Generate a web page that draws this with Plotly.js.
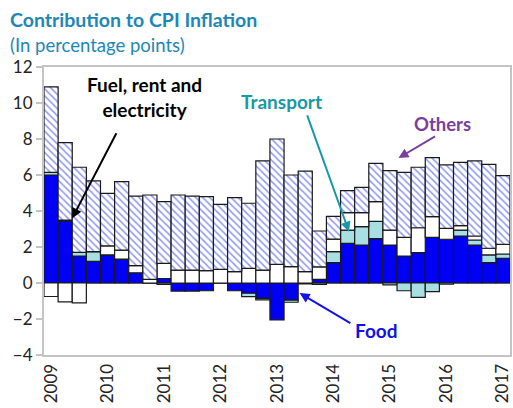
<!DOCTYPE html>
<html><head><meta charset="utf-8">
<script src="https://cdn.plot.ly/plotly-3.0.1.min.js"></script>
<style>html,body{margin:0;padding:0;background:#fff}</style>
</head><body>
<div id="chart" style="width:513px;height:408px"></div>
<script>
const quarters = ["2009Q1","2009Q2","2009Q3","2009Q4","2010Q1","2010Q2","2010Q3","2010Q4","2011Q1","2011Q2","2011Q3","2011Q4","2012Q1","2012Q2","2012Q3","2012Q4","2013Q1","2013Q2","2013Q3","2013Q4","2014Q1","2014Q2","2014Q3","2014Q4","2015Q1","2015Q2","2015Q3","2015Q4","2016Q1","2016Q2","2016Q3","2016Q4","2017Q1"];
const food = [6.0,3.45,1.5,1.2,1.56,1.33,0.57,0.0,0.25,-0.45,-0.45,-0.43,0.0,-0.43,-0.57,-0.85,-2.05,-0.95,-0.05,0.2,1.13,2.2,2.11,2.46,2.11,1.5,1.69,2.54,2.43,2.61,2.11,1.13,1.37];
const transport = [0.15,0.05,0.2,0.54,0,0,0,0,-0.08,0,0,0,0,0,-0.19,-0.09,0,-0.12,0,-0.08,0.61,0.74,1.02,0.96,-0.1,-0.43,-0.8,-0.48,-0.07,0.33,0.28,0.43,0.24];
const fuel = [-0.75,-1.05,-1.1,0,0.5,0.5,0.39,0.2,0.84,0.72,0.72,0.69,0.76,0.63,0.81,0.72,1.04,0.91,0.63,0.7,0.7,0.97,0.78,1.1,0.83,1.04,1.38,1.15,0.61,0.25,0.22,0.37,0.54];
const others = [4.75,4.3,4.73,3.93,2.92,3.8,3.87,4.69,3.43,4.17,4.11,4.11,3.61,4.11,3.62,6.06,6.96,5.09,5.59,1.99,1.26,1.22,1.4,2.13,3.3,3.61,3.36,3.27,3.52,3.51,4.17,4.66,3.81];
const yearLabels = ["2009","2010","2011","2012","2013","2014","2015","2016","2017"];

const idx = quarters.map((q,i)=>i);
const yearTicks = yearLabels.map(y => quarters.indexOf(y+"Q1"));
const outline = {color:'#1a1a1a', width:1.2};
const font = 'Lato, "Open Sans", sans-serif';

const traces = [
  {type:'bar', name:'Food', x:idx, y:food, marker:{color:'#0000f5', line:outline}},
  {type:'bar', name:'Transport', x:idx, y:transport, marker:{color:'#a8dfe3', line:outline}},
  {type:'bar', name:'Fuel, rent and electricity', x:idx, y:fuel, marker:{color:'#ffffff', line:outline}},
  {type:'bar', name:'Others', x:idx, y:others, marker:{color:'#ffffff', line:outline,
     pattern:{shape:'\\', fgcolor:'#8e98f0', bgcolor:'#ffffff', size:5, solidity:0.3}}}
];

const layout = {
  width:513, height:408,
  margin:{l:44, r:3, t:67, b:53},
  barmode:'relative', bargap:0,
  showlegend:false,
  paper_bgcolor:'#fff', plot_bgcolor:'#fff',
  font:{family:font, color:'#222'},
  xaxis:{range:[-0.5,32.5], tickmode:'array', tickvals:yearTicks, ticktext:yearLabels,
    tickangle:-90, tickfont:{size:17, color:'#222'}, showgrid:false, zeroline:false,
    showline:true, mirror:true, linecolor:'#c4c4c4', linewidth:2, ticks:''},
  yaxis:{range:[-4,12], dtick:2, tick0:0, tickfont:{size:17, color:'#222'}, showgrid:false,
    zeroline:true, zerolinecolor:'#a0a0a0', zerolinewidth:2,
    showline:true, mirror:true, linecolor:'#c4c4c4', linewidth:2,
    ticks:'outside', ticklen:6, tickcolor:'#c4c4c4', tickwidth:2},
  annotations:[
    {xref:'paper', yref:'paper', x:-0.077, y:1.165, xanchor:'left', yanchor:'middle', showarrow:false,
     text:'<b>Contribution to CPI Inflation</b>', font:{size:19.5, color:'#1d87b7', family:font}},
    {xref:'paper', yref:'paper', x:-0.077, y:1.078, xanchor:'left', yanchor:'middle', showarrow:false,
     text:'(In percentage points)', font:{size:18.5, color:'#1d87b7', family:font}},
    {xref:'x', yref:'y', x:6.6, y:10.35, showarrow:false, text:'<b>Fuel, rent and<br>electricity</b>',
     font:{size:19, color:'#000', family:font}, align:'center'},
    {xref:'x', yref:'y', axref:'x', ayref:'y', x:1.5, y:3.6, ax:4.68, ay:8.4, showarrow:true,
     arrowhead:2, arrowsize:1, arrowwidth:2, arrowcolor:'#000', text:''},
    {xref:'x', yref:'y', x:16.3, y:10.1, showarrow:false, text:'<b>Transport</b>',
     font:{size:19, color:'#1798a6', family:font}},
    {xref:'x', yref:'y', axref:'x', ayref:'y', x:21.1, y:2.85, ax:18.1, ay:9.4, showarrow:true,
     arrowhead:2, arrowsize:1, arrowwidth:2, arrowcolor:'#1798a6', text:''},
    {xref:'x', yref:'y', x:27.75, y:8.85, showarrow:false, text:'<b>Others</b>',
     font:{size:18.5, color:'#7a3f9d', family:font}},
    {xref:'x', yref:'y', axref:'x', ayref:'y', x:24.6, y:6.94, ax:27.3, ay:8.2, showarrow:true,
     arrowhead:2, arrowsize:1, arrowwidth:2, arrowcolor:'#7a3f9d', text:''},
    {xref:'x', yref:'y', x:23.05, y:-2.65, showarrow:false, text:'<b>Food</b>',
     font:{size:19, color:'#1212e6', family:font}},
    {xref:'x', yref:'y', axref:'x', ayref:'y', x:17.6, y:-0.56, ax:21.3, ay:-2.28, showarrow:true,
     arrowhead:2, arrowsize:1, arrowwidth:2, arrowcolor:'#1212e6', text:''}
  ]
};
Plotly.newPlot('chart', traces, layout, {staticPlot:true, displayModeBar:false});
</script>
</body></html>
